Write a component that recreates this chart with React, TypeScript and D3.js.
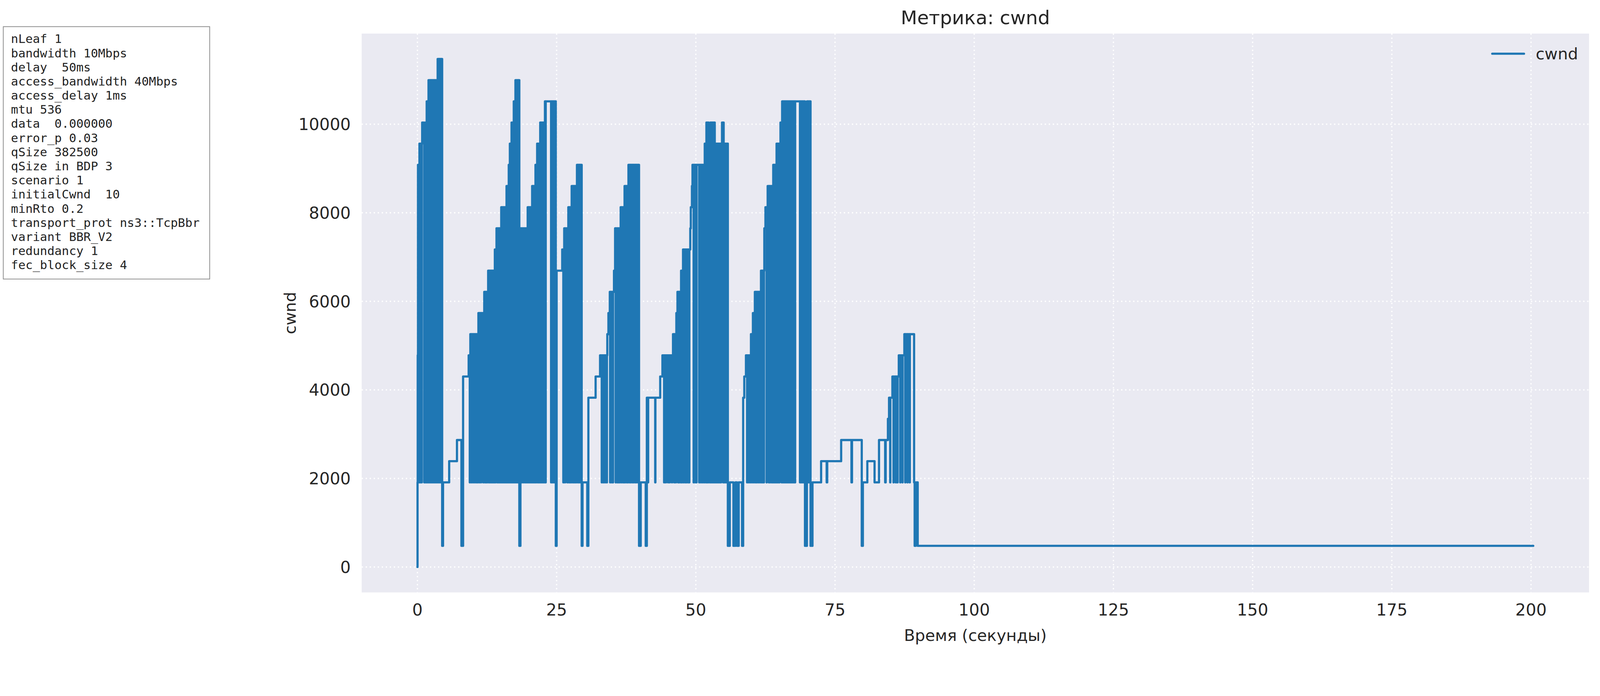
import React from "react";
import * as d3 from "d3";

// segment size in bytes (mtu 536 minus headers)
const MSS = 478;

// cwnd plateaus in segments: [time (s), segments]
const plateaus: [number, number][] = [
  [0, 0], [0.02, 4], [0.05, 10], [0.1, 19], [0.36, 20], [0.85, 21], [1.22, 4], [1.44, 21],
  [1.66, 22], [1.99, 23], [3.63, 24], [4.44, 1], [4.6, 4], [5.7, 5], [7.1, 6], [7.9, 1],
  [8.2, 9], [9.2, 10], [9.5, 11], [10.95, 12], [12.0, 13], [12.7, 14], [13.9, 15], [14.2, 16],
  [15.05, 17], [16.0, 18], [16.4, 19], [16.6, 20], [16.9, 21], [17.3, 22], [17.6, 23], [18.3, 1],
  [18.5, 16], [19.8, 17], [20.6, 18], [21.2, 19], [21.5, 20], [22.05, 21], [22.9, 22], [24.85, 1],
  [25.0, 14], [26.0, 15], [26.36, 16], [27.1, 17], [27.7, 18], [28.65, 19], [29.5, 1], [29.65, 4],
  [30.5, 1], [30.7, 8], [32.0, 9], [32.8, 10], [34.1, 11], [34.3, 12], [34.55, 13], [35.3, 14],
  [35.5, 16], [36.5, 17], [37.2, 18], [37.9, 19], [39.8, 1], [40.1, 4], [41.0, 1], [41.2, 8],
  [43.6, 9], [44.0, 10], [45.9, 11], [46.5, 12], [46.7, 13], [47.35, 14], [47.7, 15], [49.0, 16],
  [49.1, 17], [49.3, 18], [49.4, 19], [51.6, 20], [51.9, 21], [52.3, 20], [52.6, 21], [53.4, 20],
  [54.7, 21], [55.0, 20], [55.75, 1], [56.1, 4], [56.75, 1], [57.1, 4], [57.4, 1], [57.7, 4],
  [58.3, 1], [58.5, 8], [58.7, 9], [59.0, 10], [59.9, 11], [60.25, 12], [60.6, 13], [61.7, 14],
  [62.3, 16], [62.5, 17], [62.9, 18], [63.9, 19], [64.5, 20], [65.2, 21], [65.5, 22], [69.6, 1],
  [69.95, 22], [70.6, 1], [70.95, 4], [72.5, 5], [73.5, 4], [73.6, 5], [76.1, 6], [77.95, 4],
  [78.05, 6], [79.8, 1], [80.0, 4], [80.8, 5], [82.1, 4], [82.9, 6], [84.0, 4], [84.1, 6],
  [84.5, 7], [84.7, 8], [85.3, 9], [86.45, 10], [87.45, 11], [89.2, 4], [89.3, 1], [89.5, 4],
  [89.85, 1], [200.4, 1],
];

// short drops to 4 segments (1912 bytes) inside the dense regions
const dips: number[] = [
  0.15, 0.3, 0.45, 0.6, 0.75, 1.55, 1.75, 1.9, 2.1, 2.25, 2.4, 2.55, 2.7, 2.85, 3.0, 3.15, 3.3,
  3.45, 3.6, 3.75, 3.9, 4.05, 4.2, 4.35,
  9.4, 9.7, 10.0, 10.3, 10.6, 10.8, 11.1, 11.4, 11.8, 12.1, 12.3, 12.5, 12.8, 13.0, 13.2, 13.4,
  13.6, 13.8, 14.0, 14.3, 14.5, 14.7, 14.9, 15.1, 15.3, 15.5, 15.7, 15.9, 16.1, 16.3, 16.5, 16.7,
  16.8, 17.0, 17.2, 17.4, 17.5, 17.7, 17.9, 18.1, 18.2,
  18.7, 19.0, 19.3, 19.5, 19.7, 19.9, 20.1, 20.3, 20.5, 20.7, 20.9, 21.1, 21.3, 21.6, 21.8, 22.0,
  22.2, 22.4, 22.6, 22.8, 23.0, 24.0, 24.2, 24.4, 24.6,
  26.0, 26.2, 26.5, 26.9, 27.2, 27.4, 27.6, 27.9, 28.1, 28.3, 28.5, 28.8, 29.0, 29.2,
  32.0, 32.8, 33.1, 33.4, 33.7, 34.0, 34.3, 34.6, 34.9, 35.1, 35.3, 35.6, 35.9, 36.1, 36.3, 36.6,
  36.9, 37.1, 37.3, 37.6, 37.8, 38.1, 38.3, 38.6, 38.8, 39.1, 39.3, 39.6,
  41.4, 42.7, 43.6, 44.3, 44.6, 45.0, 45.3, 45.7, 46.1, 46.4, 46.8, 47.0, 47.3, 47.5, 47.8, 48.1,
  48.3, 48.6, 48.8, 49.1, 49.3, 49.6, 49.9, 50.1, 50.6, 50.9, 51.2, 51.5, 51.8, 52.0, 52.2, 52.5,
  52.7, 52.9, 53.1, 53.3, 53.5, 53.7, 53.9, 54.1, 54.3, 54.5, 54.7, 54.9, 55.1, 55.3, 55.5,
  59.2, 59.5, 59.8, 60.1, 60.4, 60.7, 60.9, 61.2, 61.5, 61.8, 62.0, 62.2, 62.5, 62.7, 62.9, 63.1,
  63.3, 63.6, 63.8, 64.0, 64.2, 64.4, 64.6, 64.8, 65.0, 65.2, 65.4, 65.6, 65.8, 66.0, 66.2, 66.4,
  66.6, 66.8, 67.0, 67.2, 67.4, 67.6, 67.8, 68.7, 68.9, 69.1, 69.3, 69.5, 70.1, 70.3, 70.5,
  84.9, 85.5, 85.9, 86.2, 86.7, 87.1, 87.6, 88.0, 88.4,
];

const xTicks = [0, 25, 50, 75, 100, 125, 150, 175, 200];
const yTicks = [0, 2000, 4000, 6000, 8000, 10000];

const infoLines = [
  "nLeaf 1",
  "bandwidth 10Mbps",
  "delay  50ms",
  "access_bandwidth 40Mbps",
  "access_delay 1ms",
  "mtu 536",
  "data  0.000000",
  "error_p 0.03",
  "qSize 382500",
  "qSize in BDP 3",
  "scenario 1",
  "initialCwnd  10",
  "minRto 0.2",
  "transport_prot ns3::TcpBbr",
  "variant BBR_V2",
  "redundancy 1",
  "fec_block_size 4",
];

function buildSeries(): [number, number][] {
  const pts: [number, number][] = [];
  let di = 0;
  for (let i = 0; i < plateaus.length; i++) {
    const [t, s] = plateaus[i];
    pts.push([t, s * MSS]);
    const next = i + 1 < plateaus.length ? plateaus[i + 1][0] : Infinity;
    while (di < dips.length && dips[di] < next) {
      if (dips[di] > t && s > 4) {
        pts.push([dips[di], 4 * MSS]);
        pts.push([Math.min(dips[di] + 0.04, next), s * MSS]);
      }
      di++;
    }
  }
  return pts;
}

const W = 4380, H = 1782;
const L = 990, R = 4350, T = 92, B = 1622;
const FONT = "DejaVu Sans";

export default function App() {
  const data = buildSeries();
  const xs = d3.scaleLinear().domain([-10.02, 210.42]).range([L, R]);
  const ys = d3.scaleLinear().domain([-574, 12046]).range([B, T]);
  const line = d3.line<[number, number]>()
    .x((d) => xs(d[0]))
    .y((d) => ys(d[1]))
    .curve(d3.curveStepAfter);

  return (
    <svg
      viewBox={`0 0 ${W} ${H}`}
      preserveAspectRatio="xMinYMin meet"
      style={{ position: "fixed", left: 0, top: 0, width: "100vw", height: "100vh", display: "block", background: "#fff" }}
    >
      <rect x={L} y={T} width={R - L} height={B - T} fill="#eaeaf2" />
      <defs>
        <clipPath id="clip"><rect x={L} y={T} width={R - L} height={B - T} /></clipPath>
      </defs>
      {yTicks.map((v) => (
        <line key={"gy" + v} x1={L} x2={R} y1={ys(v)} y2={ys(v)} stroke="#fff" strokeWidth={3.5} strokeDasharray="3.5 7.5" />
      ))}
      {xTicks.map((v) => (
        <line key={"gx" + v} x1={xs(v)} x2={xs(v)} y1={T} y2={B} stroke="#fff" strokeWidth={3.5} strokeDasharray="3.5 7.5" />
      ))}
      <path d={line(data) || ""} fill="none" stroke="#1f77b4" strokeWidth={6} strokeLinejoin="round" strokeLinecap="round" clipPath="url(#clip)" />
      {yTicks.map((v) => (
        <text key={"ty" + v} x={L - 30} y={ys(v)} dy="0.36em" textAnchor="end" fontFamily={FONT} fontSize={45} fill="#262626">{v}</text>
      ))}
      {xTicks.map((v) => (
        <text key={"tx" + v} x={xs(v)} y={1685} textAnchor="middle" fontFamily={FONT} fontSize={45} fill="#262626">{v}</text>
      ))}
      <text x={(L + R) / 2} y={1755} textAnchor="middle" fontFamily={FONT} fontSize={44} fill="#262626">Время (секунды)</text>
      <text transform={`translate(810,${(T + B) / 2}) rotate(-90)`} textAnchor="middle" fontFamily={FONT} fontSize={44} fill="#262626">cwnd</text>
      <text x={(L + R) / 2} y={66} textAnchor="middle" fontFamily={FONT} fontSize={52} fill="#262626">Метрика: cwnd</text>
      <line x1={4085} x2={4172} y1={147} y2={147} stroke="#1f77b4" strokeWidth={6} strokeLinecap="round" />
      <text x={4204} y={163} fontFamily={FONT} fontSize={44} fill="#262626">cwnd</text>
      <rect x={9} y={73} width={565} height={691} fill="#fff" stroke="#888" strokeWidth={2} />
      {infoLines.map((s, i) => (
        <text key={s} x={30} y={118 + i * 38.7} fontFamily="DejaVu Sans Mono" fontSize={33} fill="#222" style={{ whiteSpace: "pre" }}>{s}</text>
      ))}
    </svg>
  );
}
